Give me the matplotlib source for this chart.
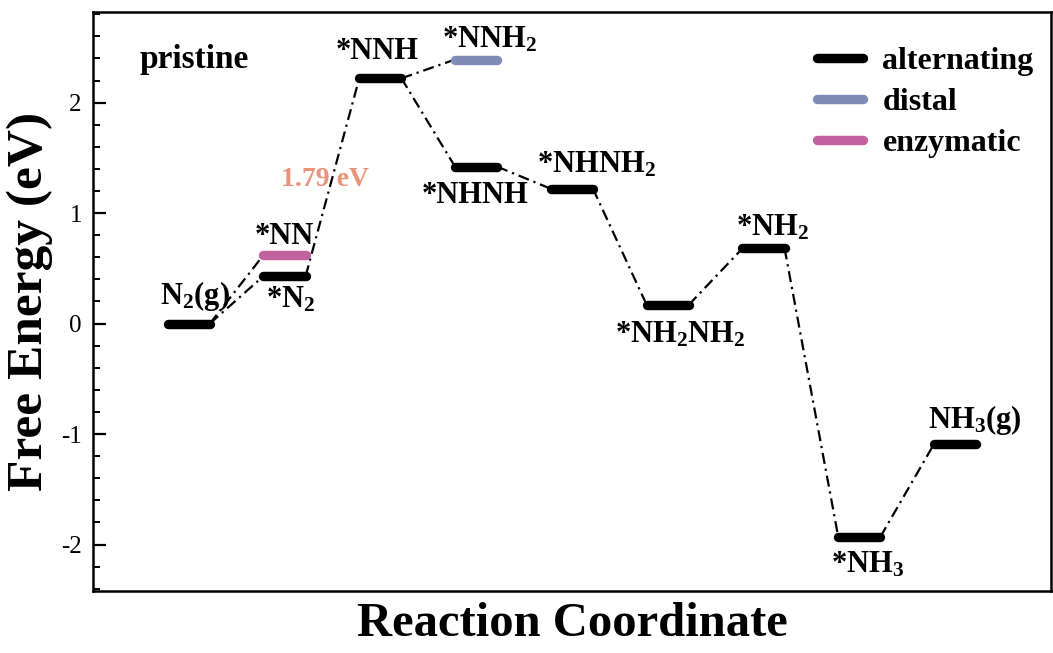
import numpy as np
import matplotlib.pyplot as plt
from matplotlib.lines import Line2D

plt.rcParams['font.family'] = ['Liberation Serif', 'DejaVu Serif']
plt.rcParams['mathtext.fontset'] = 'custom'
plt.rcParams['mathtext.rm'] = 'Liberation Serif:bold'
plt.rcParams['mathtext.bf'] = 'Liberation Serif:bold'
plt.rcParams['mathtext.default'] = 'rm'
plt.rcParams['axes.unicode_minus'] = False

# energias livres (eV) de cada intermediário
alt_nomes = ["N$_2$(g)", "*N$_2$", "*NNH", "*NHNH", "*NHNH$_2$",
             "*NH$_2$NH$_2$", "*NH$_2$", "*NH$_3$", "NH$_3$(g)"]
alt_energias = [0.00, 0.43, 2.22, 1.42, 1.22, 0.17, 0.68, -1.93, -1.09]

distal_nomes = ["*NNH$_2$"]
distal_passos = [4]
distal_energias = [2.39]

enz_nomes = ["*NN"]
enz_passos = [2]
enz_energias = [0.62]

barreira = 1.79  # etapa limitante *N2 -> *NNH

# deslocamento dos rótulos em relação a cada nível
alt_offsets = [(0.06, 0.25), (0.06, -0.21), (-0.03, 0.24), (-0.01, -0.26),
               (0.26, 0.22), (0.13, -0.27), (0.09, 0.19), (0.09, -0.25),
               (0.21, 0.22)]
distal_offsets = [(0.14, 0.18)]
enz_offsets = [(0.0, 0.17)]

cor_alt = "black"
cor_distal = "#7f8cb6"
cor_enz = "#c2619f"
meia = 0.22
lw_nivel = 6.8
estilo_lig = (0, (5, 2.2, 1, 2.2))

fig = plt.figure(figsize=(10.53, 6.53), dpi=100)
ax = fig.add_axes([0.0883, 0.095, 0.9097, 0.8866])

passos = np.arange(1, len(alt_energias) + 1)


def nivel(x, e, cor):
    ax.plot([x - meia, x + meia], [e, e], color=cor, lw=lw_nivel,
            solid_capstyle='round', zorder=3)


def ligacao(x0, e0, x1, e1):
    ax.plot([x0 + meia, x1 - meia], [e0, e1], color='black', lw=1.6,
            linestyle=estilo_lig, zorder=2)


# caminho alternado
for i in range(len(alt_energias)):
    nivel(passos[i], alt_energias[i], cor_alt)
    if i > 0:
        ligacao(passos[i - 1], alt_energias[i - 1], passos[i], alt_energias[i])
    dx, dy = alt_offsets[i]
    ax.text(passos[i] + dx, alt_energias[i] + dy, alt_nomes[i], ha='center',
            va='center', fontsize=22, fontweight='bold')

# ramo distal (*NNH -> *NNH2)
for p, e, nome, (dx, dy) in zip(distal_passos, distal_energias, distal_nomes, distal_offsets):
    nivel(p, e, cor_distal)
    ligacao(p - 1, alt_energias[p - 2], p, e)
    ax.text(p + dx, e + dy, nome, ha='center', va='center', fontsize=22,
            fontweight='bold')

# ramo enzimático (N2(g) -> *NN)
for p, e, nome, (dx, dy) in zip(enz_passos, enz_energias, enz_nomes, enz_offsets):
    nivel(p, e, cor_enz)
    ligacao(p - 1, alt_energias[p - 2], p, e)
    ax.text(p + dx, e + dy, nome, ha='center', va='center', fontsize=22,
            fontweight='bold')

ax.text(2.42, 1.30, f"{barreira:.2f} eV", color="#e9937a", ha='center',
        va='center', fontsize=20, fontweight='bold')
ax.text(1.06, 2.39, "pristine", ha='center', va='center', fontsize=24,
        fontweight='bold')

handles = [Line2D([], [], color=c, lw=lw_nivel, solid_capstyle='round')
           for c in (cor_alt, cor_distal, cor_enz)]
ax.legend(handles, ["alternating", "distal", "enzymatic"], loc='upper right',
          bbox_to_anchor=(0.982, 0.94), frameon=False, borderpad=0,
          borderaxespad=0, handlelength=1.45, handletextpad=0.6,
          labelspacing=0.36, prop={'size': 23, 'weight': 'bold'})

ax.set_xlim(0, 10)
ax.set_ylim(-2.42, 2.82)
ax.set_xticks([])
ax.set_yticks([-2, -1, 0, 1, 2])
ax.set_yticks(np.arange(-2.4, 2.81, 0.2), minor=True)
ax.tick_params(axis='y', which='major', direction='in', length=9, width=1.6,
               labelsize=18, pad=8)
ax.tick_params(axis='y', which='minor', direction='in', length=5, width=1.4)
for s in ax.spines.values():
    s.set_linewidth(1.8)

ax.set_ylabel("Free Energy (eV)", fontsize=37, fontweight='bold', labelpad=6)
ax.set_xlabel("Reaction Coordinate", fontsize=35, fontweight='bold', labelpad=8)

fig.savefig("out.png", dpi=100)
